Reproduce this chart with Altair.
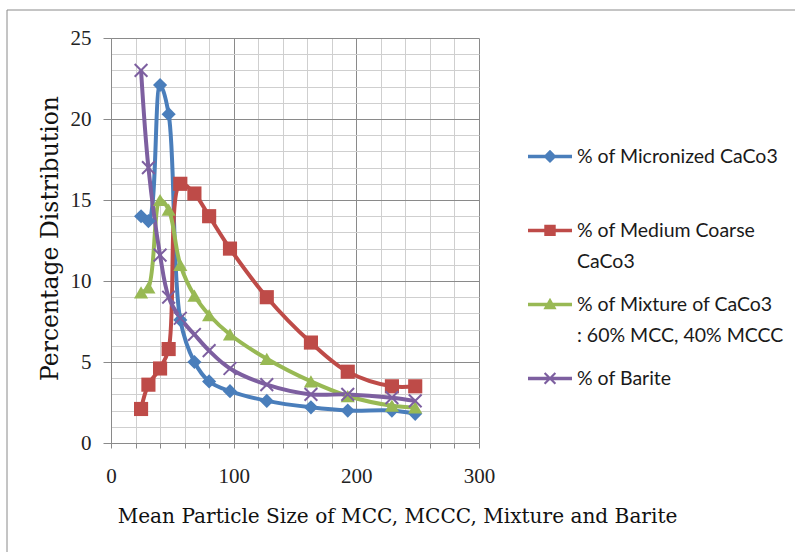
import altair as alt
import pandas as pd

# ---- data ----
sizes = [24.5, 30.5, 40, 47, 56.5, 68, 80, 97, 127, 163, 193, 229, 248]
micronized = [14.0, 13.7, 22.1, 20.3, 7.6, 5.0, 3.8, 3.2, 2.6, 2.2, 2.0, 2.0, 1.8]
medium = [2.1, 3.6, 4.6, 5.8, 16.0, 15.4, 14.0, 12.0, 9.0, 6.2, 4.4, 3.5, 3.5]
mixture = [9.3, 9.6, 15.0, 14.4, 11.0, 9.1, 7.9, 6.7, 5.2, 3.8, 2.9, 2.3, 2.2]
barite = [23.0, 17.0, 11.6, 9.0, 7.7, 6.7, 5.7, 4.6, 3.6, 3.0, 3.0, 2.8, 2.6]

series_names = [
    "% of Micronized CaCo3",
    "% of Medium Coarse CaCo3",
    "% of Mixture of CaCo3 : 60% MCC, 40% MCCC",
    "% of Barite",
]
colors = ["#4A7EBB", "#BE4B48", "#98B954", "#7D5FA0"]

rows = []
for name, vals in zip(series_names, [micronized, medium, mixture, barite]):
    for x, y in zip(sizes, vals):
        rows.append({"series": name, "size": x, "pct": y})
df = pd.DataFrame(rows)

# ---- marker shapes ----
X_PATH = "M-1,-0.8 L-0.8,-1 L1,0.8 L0.8,1 Z M0.8,-1 L1,-0.8 L-0.8,1 L-1,0.8 Z"
point_shapes = ["diamond", "square", "triangle-up", X_PATH]


def f(v):
    return str(round(v, 3))


def legend_path(kind, c=-0.3):
    t = 0.08
    line = f"M-1,{f(c - t)} L1,{f(c - t)} L1,{f(c + t)} L-1,{f(c + t)} Z"
    if kind == "diamond":
        r = 0.3
        m = f"M0,{f(c - r)} L{f(r)},{f(c)} L0,{f(c + r)} L{f(-r)},{f(c)} Z"
    elif kind == "square":
        r = 0.26
        m = f"M{f(-r)},{f(c - r)} L{f(r)},{f(c - r)} L{f(r)},{f(c + r)} L{f(-r)},{f(c + r)} Z"
    elif kind == "triangle":
        m = f"M0,{f(c - 0.3)} L0.3,{f(c + 0.22)} L-0.3,{f(c + 0.22)} Z"
    else:
        r, k = 0.28, 0.07
        m = (f"M{f(-r)},{f(c - r + k)} L{f(-r + k)},{f(c - r)} L{f(r)},{f(c + r - k)} L{f(r - k)},{f(c + r)} Z "
             f"M{f(r - k)},{f(c - r)} L{f(r)},{f(c - r + k)} L{f(-r + k)},{f(c + r)} L{f(-r)},{f(c + r - k)} Z")
    return line + " " + m


legend_shapes = [legend_path(k) for k in ["diamond", "square", "triangle", "x"]]

label_expr = (
    "datum.label === '% of Medium Coarse CaCo3' ? ['% of Medium Coarse', 'CaCo3'] : "
    "datum.label === '% of Mixture of CaCo3 : 60% MCC, 40% MCCC' ? "
    "['% of Mixture of CaCo3', ': 60% MCC, 40% MCCC'] : [datum.label, '']"
)

major = "#8a8a8a"
minor = "#cfcfcf"

x_axis = alt.Axis(
    values=list(range(0, 301, 20)),
    labelExpr="datum.value % 100 === 0 ? datum.label : ''",
    labelOverlap=False,
    gridColor={"condition": {"test": "datum.value % 100 === 0", "value": major}, "value": minor},
    gridWidth=1,
    tickSize=5,
    tickColor=major,
    domainColor=major,
    labelFont="Liberation Serif",
    labelFontSize=21,
    labelColor="#222222",
    labelPadding=17,
    labelFlush=False,
    title="Mean Particle Size of MCC, MCCC, Mixture and Barite",
    titleFont="DejaVu Serif",
    titleFontSize=20.1,
    titleFontWeight="normal",
    titleColor="#111111",
    titleX=286,
    titleY=73,
    titleAlign="center",
    titleBaseline="middle",
)

y_axis = alt.Axis(
    values=list(range(0, 26)),
    labelExpr="datum.value % 5 === 0 ? datum.label : ''",
    labelOverlap=False,
    gridColor={"condition": {"test": "datum.value % 5 === 0", "value": major}, "value": minor},
    gridWidth=1,
    tickSize=8,
    tickColor=major,
    tickOpacity={"condition": {"test": "datum.value % 5 === 0", "value": 1}, "value": 0},
    domainColor=major,
    labelFont="Liberation Serif",
    labelFontSize=21,
    labelColor="#222222",
    labelPadding=12,
    labelFlush=False,
    title="Percentage Distribution",
    titleFont="DejaVu Serif",
    titleFontSize=23.5,
    titleFontWeight="normal",
    titleColor="#111111",
    titleX=-61,
    titleY=200,
    titleAngle=270,
    titleAlign="center",
    titleBaseline="middle",
)

xs = alt.Scale(domain=[0, 300], nice=False, zero=False)
ys = alt.Scale(domain=[0, 25], nice=False)

base = alt.Chart(df)

border = alt.Chart(alt.Data(values=[{"a": 1}])).mark_rect(
    fillOpacity=0, stroke="#8a8a8a", strokeWidth=1
).encode(
    x=alt.value(-104), x2=alt.value(720), y=alt.value(-28), y2=alt.value(620)
)

X = alt.X("size:Q", scale=xs, axis=x_axis)
Y = alt.Y("pct:Q", scale=ys, axis=y_axis)

lines = base.mark_line(interpolate="catmull-rom", strokeWidth=4).encode(
    x=X,
    y=Y,
    color=alt.Color("series:N", scale=alt.Scale(domain=series_names, range=colors), legend=None),
    detail="series:N",
)

points = base.mark_point(filled=True, opacity=1, size=200).encode(
    x=X,
    y=Y,
    color=alt.Color("series:N", scale=alt.Scale(domain=series_names, range=colors), legend=None),
    shape=alt.Shape("series:N", scale=alt.Scale(domain=series_names, range=point_shapes), legend=None),
)

legend_layer = base.transform_filter("false").mark_point(filled=True, opacity=1).encode(
    x=X,
    y=Y,
    color=alt.Color("series:N", scale=alt.Scale(domain=series_names, range=colors),
                    legend=alt.Legend(title=None, labelExpr=label_expr)),
    shape=alt.Shape("series:N", scale=alt.Scale(domain=series_names, range=legend_shapes),
                    legend=alt.Legend(title=None, labelExpr=label_expr)),
)

chart = (
    alt.layer(border, lines, points, legend_layer)
    .resolve_scale(color="independent", shape="independent")
    .properties(
        width=368,
        height=405,
        padding={"left": 111, "top": 38, "right": 316, "bottom": 109},
        autosize=alt.AutoSizeParams(type="none"),
        background="white",
    )
    .configure_view(stroke=None)
    .configure_legend(
        orient="none",
        legendX=417,
        legendY=103,
        padding=0,
        symbolSize=1936,
        symbolStrokeWidth=0,
        labelFont="Lato",
        labelFontSize=19.5,
        labelColor="#1a1a1a",
        labelBaseline="alphabetic",
        labelLimit=400,
        labelOffset=5,
        rowPadding=17,
    )
)
chart.config.style = {"guide-label": {"lineHeight": 31}}

chart.save("out.html", embed_options={"renderer": "svg", "actions": False})
